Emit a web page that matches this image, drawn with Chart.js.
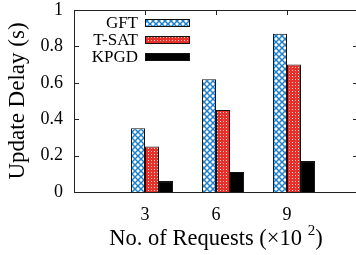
<!DOCTYPE html>
<html>
<head>
<meta charset="utf-8">
<script src="https://cdn.jsdelivr.net/npm/chart.js@4"></script>
<style>
  html, body { margin: 0; padding: 0; background: #fff; overflow: hidden; }
  #wrap { width: 362px; height: 255px; }
</style>
</head>
<body>
<div id="wrap"><canvas id="chart"></canvas></div>
<script>
// 値
const categories = [3, 6, 9];
const seriesNames = ['GFT', 'T-SAT', 'KPGD'];
const gftValues = [0.35, 0.62, 0.87];
const tsatValues = [0.25, 0.45, 0.70];
const kpgdValues = [0.06, 0.11, 0.17];
const yTicks = [0, 0.2, 0.4, 0.6, 0.8, 1];

const SERIF = '"Liberation Serif", "DejaVu Serif", serif';
const INK = '#222';

// ハッチパターン
function crossHatch() {
  const c = document.createElement('canvas');
  c.width = 6; c.height = 6;
  const g = c.getContext('2d');
  g.fillStyle = '#fff';
  g.fillRect(0, 0, 6, 6);
  g.strokeStyle = '#1f80cc';
  g.lineWidth = 1.5;
  g.beginPath();
  g.moveTo(-1, -1); g.lineTo(7, 7);
  g.moveTo(7, -1); g.lineTo(-1, 7);
  g.stroke();
  return g.createPattern(c, 'repeat');
}
function dotted() {
  const c = document.createElement('canvas');
  c.width = 3; c.height = 3;
  const g = c.getContext('2d');
  g.fillStyle = '#e8302a';
  g.fillRect(0, 0, 3, 3);
  g.fillStyle = '#fbd0c8';
  g.fillRect(1, 1, 1, 1);
  return g.createPattern(c, 'repeat');
}

const fills = [crossHatch(), dotted(), '#000'];
const seriesValues = [gftValues, tsatValues, kpgdValues];

const toPoints = vals => categories.map((c, i) => ({ x: c, y: vals[i] }));

// 先頭の空データセットでグループを右へずらす
const datasets = [{ label: '', data: categories.map(c => ({ x: c, y: null })) }].concat(
  seriesNames.map((name, i) => ({
    label: name,
    data: toPoints(seriesValues[i]),
    backgroundColor: fills[i],
    borderColor: '#111',
    borderWidth: 1
  }))
);

function noPad(s) {
  s.paddingTop = 0; s.paddingBottom = 0;
  s.paddingLeft = 0; s.paddingRight = 0;
}

// 枠と内向き目盛り
const framePlugin = {
  id: 'frame',
  beforeDatasetsDraw(chart) {
    const { ctx, chartArea: a, scales: { x, y } } = chart;
    ctx.save();
    ctx.strokeStyle = INK;
    ctx.lineWidth = 1;
    ctx.beginPath();
    yTicks.forEach(v => {
      const py = Math.round(y.getPixelForValue(v)) + 0.5;
      ctx.moveTo(a.left, py); ctx.lineTo(a.left + 5, py);
      ctx.moveTo(a.right, py); ctx.lineTo(a.right - 5, py);
    });
    categories.forEach(c => {
      const px = Math.round(x.getPixelForValue(c)) + 0.5;
      ctx.moveTo(px, a.top); ctx.lineTo(px, a.top + 5);
      ctx.moveTo(px, a.bottom); ctx.lineTo(px, a.bottom - 5);
    });
    ctx.stroke();
    ctx.restore();
  },
  afterDraw(chart) {
    const { ctx, chartArea: a } = chart;
    ctx.save();
    ctx.strokeStyle = INK;
    ctx.lineWidth = 1;
    ctx.strokeRect(Math.round(a.left) + 0.5, Math.round(a.top) + 0.5,
      Math.round(a.right - a.left), Math.round(a.bottom - a.top));

    // 凡例（文字は右寄せ、その右にサンプル）
    ctx.font = '17px ' + SERIF;
    ctx.textAlign = 'right';
    ctx.textBaseline = 'middle';
    seriesNames.forEach((name, i) => {
      const cy = 23 + i * 17;
      ctx.fillStyle = '#000';
      ctx.fillText(name, 138, cy + 1);
      ctx.fillStyle = fills[i];
      ctx.fillRect(145.5, cy - 3.5, 44, 7);
      ctx.strokeStyle = '#111';
      ctx.strokeRect(145.5, cy - 3.5, 44, 7);
    });

    // x 軸タイトル（上付き 2）
    const main = 'No. of Requests (×10 ';
    const big = '22.5px ' + SERIF, small = '15px ' + SERIF;
    ctx.font = big;
    const w1 = ctx.measureText(main).width;
    const w3 = ctx.measureText(')').width;
    ctx.font = small;
    const w2 = ctx.measureText('2').width;
    const sx = (a.left + a.right) / 2 - (w1 + w2 + w3) / 2;
    const by = 245;
    ctx.textAlign = 'left';
    ctx.textBaseline = 'alphabetic';
    ctx.fillStyle = '#000';
    ctx.font = big;
    ctx.fillText(main, sx, by);
    ctx.fillText(')', sx + w1 + w2, by);
    ctx.font = small;
    ctx.fillText('2', sx + w1, by - 10);
    ctx.restore();
  }
};

new Chart(document.getElementById('chart'), {
  type: 'bar',
  data: { datasets },
  options: {
    responsive: true,
    maintainAspectRatio: false,
    animation: false,
    layout: { padding: { top: 10, right: 4, left: 0, bottom: 0 } },
    datasets: { bar: { categoryPercentage: 0.79, barPercentage: 1 } },
    plugins: { legend: { display: false }, tooltip: { enabled: false } },
    scales: {
      x: {
        type: 'linear',
        min: 0, max: 12,
        offset: false,
        grid: { display: false },
        border: { display: false },
        afterFit: s => { s.height = 63; noPad(s); },
        afterBuildTicks: s => { s.ticks = [0, 3, 6, 9, 12].map(v => ({ value: v })); },
        ticks: {
          padding: 4,
          color: '#000',
          font: { family: SERIF, size: 18 },
          callback: v => categories.includes(v) ? String(v) : ''
        }
      },
      y: {
        min: 0, max: 1,
        grid: { display: false, drawTicks: false },
        border: { display: false },
        afterFit: s => { s.width = 74; noPad(s); },
        afterBuildTicks: s => { s.ticks = yTicks.map(v => ({ value: v })); },
        ticks: {
          padding: 11,
          color: '#000',
          font: { family: SERIF, size: 18 },
          callback: v => String(+v.toFixed(1))
        },
        title: {
          display: true,
          text: 'Update Delay (s)',
          color: '#000',
          font: { family: SERIF, size: 23 },
          padding: { top: 4, bottom: 4 }
        }
      }
    }
  },
  plugins: [framePlugin]
});
</script>
</body>
</html>
